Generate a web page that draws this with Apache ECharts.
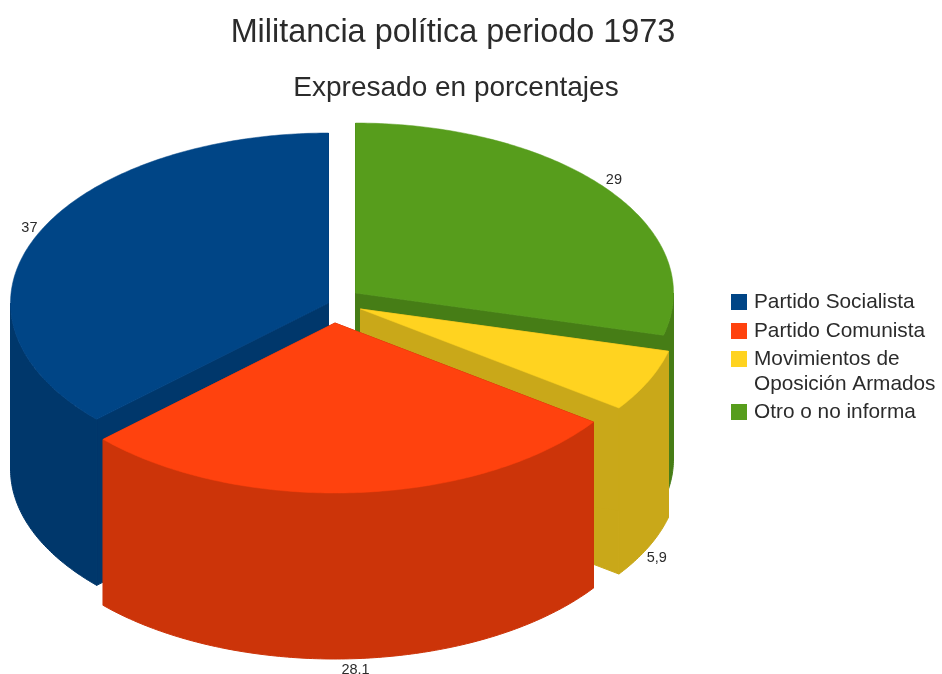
<!DOCTYPE html>
<html>
<head>
<meta charset="utf-8">
<style>html,body{margin:0;padding:0;background:#fff}#c{width:942px;height:674px}</style>
<script src="https://cdn.jsdelivr.net/npm/echarts@6/dist/echarts.min.js"></script>
</head>
<body>
<div id="c"></div>
<script>
// --- data ---
const categories = ['Partido Socialista', 'Partido Comunista', 'Movimientos de\nOposición Armados', 'Otro o no informa'];
const values = [37, 28.1, 5.9, 29];
const valueLabels = ['37', '28.1', '5,9', '29'];

// --- styles ---
const topColors = ['#004586', '#ff420e', '#ffd320', '#579d1c'];
const wallColors = ['#00376b', '#cc3409', '#c9a819', '#467d16'];
const paintOrder = [0, 3, 2, 1];
const textColor = '#2b2b2b';
const FONT = '"Liberation Sans", Arial, sans-serif';

// --- layout of the tilted pie ---
const RX = 318, RY = 170, DEPTH = 166;
const sliceCenters = [[328.5, 303], [335, 323], [360.5, 309], [355.5, 293]];
const labelNudges = [[1, -4], [-1, 2], [0, 7], [0, -3]];
const legendTops = [286, 315, 318, 396];

const total = values.reduce((a, b) => a + b, 0);
const toAngle = v => v / total * 2 * Math.PI;

function rim(c, a, dy) {
  return [c[0] - RX * Math.sin(a), c[1] - RY * Math.cos(a) + (dy || 0)];
}
function arcPoints(c, a0, a1, dy) {
  const pts = [];
  const n = Math.max(1, Math.ceil(Math.abs(a1 - a0) / (Math.PI / 240)));
  for (let i = 0; i <= n; i++) pts.push(rim(c, a0 + (a1 - a0) * i / n, dy));
  return pts;
}
function poly(points, fill, lw) {
  return { type: 'polygon', shape: { points }, style: { fill, stroke: fill, lineWidth: lw }, silent: true };
}
function makeRender(idx) {
  return function (params, api) {
    let before = 0;
    for (let i = 0; i < idx; i++) before += values[i];
    const a0 = toAngle(before);
    const a1 = a0 + toAngle(api.value(0));
    const c = sliceCenters[idx];
    const base = [c[0], c[1] + DEPTH];
    const wall = wallColors[idx];
    const children = [
      poly([c, rim(c, a0), rim(c, a0, DEPTH), base], wall, 1),
      poly([c, rim(c, a1), rim(c, a1, DEPTH), base], wall, 1)
    ];
    // outer wall: only the part of the rim facing the viewer
    const f0 = Math.max(a0, Math.PI / 2), f1 = Math.min(a1, 3 * Math.PI / 2);
    if (f1 > f0) {
      children.push(poly(arcPoints(c, f0, f1, 0).concat(arcPoints(c, f1, f0, DEPTH)), wall, 1));
    }
    children.push(poly([c].concat(arcPoints(c, a0, a1, 0)), topColors[idx], 0.5));
    const mid = (a0 + a1) / 2;
    const anchor = rim(c, mid, Math.cos(mid) < 0 ? DEPTH : 0);
    children.push({
      type: 'text', silent: true,
      style: {
        x: anchor[0] - Math.sin(mid) * 9 + labelNudges[idx][0],
        y: anchor[1] - Math.cos(mid) * 9 + labelNudges[idx][1],
        text: valueLabels[idx],
        align: 'center', verticalAlign: 'middle',
        font: '14.5px ' + FONT, fill: textColor
      }
    });
    return { type: 'group', children };
  };
}

const series = categories.map((name, idx) => ({
  type: 'custom',
  name,
  coordinateSystem: 'none',
  z: 2 + paintOrder.indexOf(idx),
  itemStyle: { color: topColors[idx] },
  data: [[values[idx]]],
  renderItem: makeRender(idx),
  animation: false,
  silent: true
}));

const legend = categories.map((name, idx) => ({
  data: [name],
  orient: 'vertical',
  left: 731,
  top: legendTops[idx],
  padding: 0,
  icon: 'rect',
  itemWidth: 16,
  itemHeight: 16,
  selectedMode: false,
  // a leading blank line keeps the swatch level with the first line of a wrapped name
  formatter: n => (n.indexOf('\n') >= 0 ? '\n' + n : n),
  textStyle: { fontFamily: FONT, fontSize: 20.8, color: textColor, lineHeight: 25, padding: [7, 0, 0, 2] }
}));

const chart = echarts.init(document.getElementById('c'), null, { renderer: 'canvas' });
chart.setOption({
  backgroundColor: '#fff',
  animation: false,
  title: [
    { text: 'Militancia política periodo 1973', left: 453, top: 17, textAlign: 'center',
      padding: 0, textStyle: { fontFamily: FONT, fontSize: 32.4, fontWeight: 'normal', color: textColor } },
    { text: 'Expresado en porcentajes', left: 456, top: 74, textAlign: 'center',
      padding: 0, textStyle: { fontFamily: FONT, fontSize: 28, fontWeight: 'normal', color: textColor } }
  ],
  legend,
  series
});
</script>
</body>
</html>
